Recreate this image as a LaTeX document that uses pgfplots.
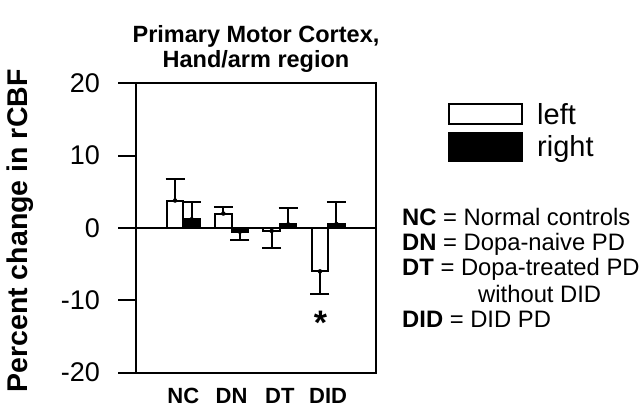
\documentclass[border=0pt]{standalone}
\usepackage{fontspec}
\setmainfont{Liberation Sans}
\usepackage{pgfplots}
\pgfplotsset{compat=1.18}
\begin{document}
\begin{tikzpicture}
\useasboundingbox (0,0) rectangle (640pt,408pt);
\begin{axis}[
  at={(136pt,35.3pt)}, anchor=south west,
  scale only axis, width=240pt, height=289.4pt,
  xmin=-0.98, xmax=3.99, ymin=-20, ymax=20,
  xtick={0,1,2,3}, xticklabels={NC,DN,DT,DID},
  ytick={-20,-10,0,10,20}, yticklabels={-20,-10,0,10,20},
  ytick pos=left,
  tick align=outside,
  major tick length=18pt,
  x tick style={draw=none},
  y tick style={line width=2pt, black},
  axis line style={line width=2pt},
  yticklabel style={font=\fontsize{27}{27}\selectfont, inner sep=0pt, anchor=east, xshift=-18pt},
  xticklabel style={font=\bfseries\fontsize{22}{22}\selectfont, inner sep=0pt, anchor=north, yshift=3pt},
  ylabel={\bfseries Percent change in rCBF},
  ylabel style={font=\fontsize{28.5}{28.5}\selectfont, at={(axis description cs:-0.483,0.49)}, anchor=center},
  title={Primary Motor Cortex,\\Hand/arm region},
  title style={font=\bfseries\fontsize{23.5}{25}\selectfont, align=center, inner sep=0pt, at={(axis description cs:0.5,1)}, anchor=south, yshift=5pt},
  extra y ticks={0}, extra y tick labels={},
  extra y tick style={grid=major, major grid style={black, line width=2pt}},
  legend style={at={(axis description cs:1.3,0.932)}, anchor=north west, draw=none, fill=none, inner sep=0pt, row sep=6pt, column sep=14pt, font=\fontsize{29}{29}\selectfont, nodes={inner sep=0pt}},
  legend cell align=left,
  every error bar/.style={line width=2pt, black},
]
\addlegendimage{legend image code/.code={\draw[line width=2pt, fill=white] (0pt,-10pt) rectangle (73pt,10pt);}}
\addlegendentry{left}
\addlegendimage{legend image code/.code={\draw[line width=2pt, fill=black] (0pt,-14pt) rectangle (73pt,14pt);}}
\addlegendentry{right}

% bars: left hemisphere (white) and right hemisphere (black)
\addplot[ybar, bar width=16.5pt, bar shift=-8.25pt, draw=black, fill=white, line width=2pt, forget plot]
  coordinates {(0,3.8) (1,2.0) (2,-0.4) (3,-6.0)};
\addplot[ybar, bar width=16.5pt, bar shift=8.25pt, draw=black, fill=black, line width=2pt, forget plot]
  coordinates {(0,1.2) (1,-0.5) (2,0.5) (3,0.55)};

% one-sided error bars (away from zero), at the bar centres
\addplot[only marks, mark=none, black, forget plot,
  error bars/.cd, y dir=plus, y explicit, error mark options={rotate=90, mark size=9.5pt, line width=2pt, black}]
  coordinates {(-0.171,3.8) +- (0,3.0) (0.829,2.0) +- (0,0.9)
               (0.171,1.2) +- (0,2.4) (2.171,0.5) +- (0,2.2) (3.171,0.55) +- (0,3.05)};
\addplot[only marks, mark=none, black, forget plot,
  error bars/.cd, y dir=minus, y explicit, error mark options={rotate=90, mark size=9.5pt, line width=2pt, black}]
  coordinates {(1.829,-0.4) +- (0,2.4) (2.829,-6.0) +- (0,3.1) (1.171,-0.5) +- (0,1.2)};

\node[font=\bfseries\fontsize{34}{34}\selectfont, inner sep=0pt, yshift=-7pt] at (axis cs:2.84,-12.2) {*};
\end{axis}
\begin{scope}[every node/.style={anchor=base west, inner sep=0pt, font=\fontsize{23.8}{23.8}\selectfont}]
\node at (402pt,183pt) {\textbf{NC} = Normal controls};
\node at (402pt,158pt) {\textbf{DN} = Dopa-naive PD};
\node at (402pt,133pt) {\textbf{DT} = Dopa-treated PD};
\node at (478pt,106pt) {without DID};
\node at (402pt,81pt) {\textbf{DID} = DID PD};
\end{scope}
\end{tikzpicture}
\end{document}
